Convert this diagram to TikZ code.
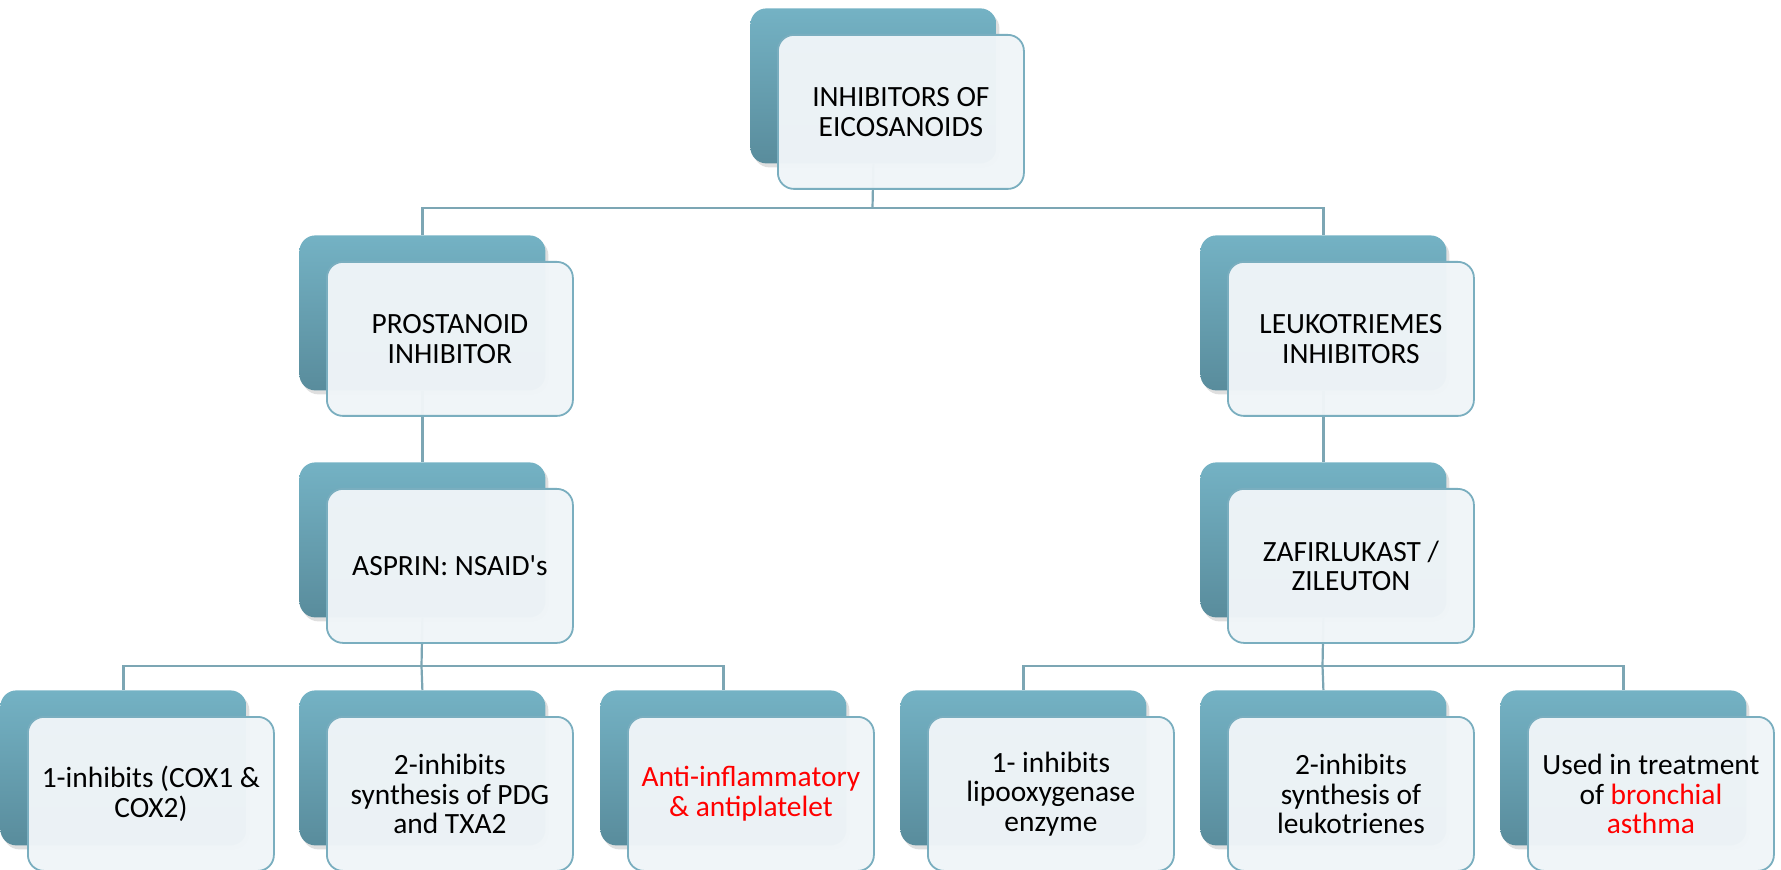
\documentclass[tikz,border=0pt]{standalone}
\usepackage{fontspec}
\setmainfont{Carlito}
\usetikzlibrary{positioning,shadows}
\definecolor{backtop}{HTML}{74B2C4}
\definecolor{backbot}{HTML}{598C9C}
\definecolor{frontfill}{HTML}{F0F5F8}
\definecolor{edge}{HTML}{7AAEBF}
\definecolor{linkcol}{HTML}{7CA6B4}

\begin{document}
\begin{tikzpicture}[x=0.5pt, y=-0.5pt,
	back/.style={anchor=north west, minimum width=123pt, minimum height=77.5pt, inner sep=0pt,
		rounded corners=8pt, top color=backtop, bottom color=backbot,
		drop shadow={shadow xshift=1.5pt, shadow yshift=-2pt, opacity=0.25}},
	front/.style={anchor=north west, minimum width=123pt, minimum height=77pt, inner sep=2pt,
		rounded corners=8pt, draw=edge, line width=0.9pt, fill=frontfill, fill opacity=0.97,
		text opacity=1, align=center, font=\fontsize{14.7}{14.8}\selectfont},
	link/.style={draw=linkcol, line width=1.1pt}]
	\useasboundingbox (0,0) rectangle (1781,870);

	% back boxes
	\node [back] (eico') at (750,8) {};
	\node [back] (pros') at (299,235) {};
	\node [back] (leuk') at (1200,235) {};
	\node [back] (asp') at (299,462) {};
	\node [back] (zaf') at (1200,462) {};
	\node [back] (cox') at (0,690) {};
	\node [back] (pdg') at (299,690) {};
	\node [back] (anti') at (600,690) {};
	\node [back] (lipo') at (900,690) {};
	\node [back] (leuko') at (1200,690) {};
	\node [back] (asth') at (1500,690) {};

	% connectors
	\coordinate (j1) at (872.5,208);
	\coordinate (j2) at (421.5,666);
	\coordinate (j3) at (1322.5,666);
	\draw [link] (eico'.south) -- (j1);
	\draw [link] (j1) -| (pros'.north);
	\draw [link] (j1) -| (leuk'.north);
	\draw [link] (pros'.south) -- (asp'.north);
	\draw [link] (leuk'.south) -- (zaf'.north);
	\draw [link] (asp'.south) -- (j2);
	\draw [link] (j2) -| (cox'.north);
	\draw [link] (j2) -- (pdg'.north);
	\draw [link] (j2) -| (anti'.north);
	\draw [link] (zaf'.south) -- (j3);
	\draw [link] (j3) -| (lipo'.north);
	\draw [link] (j3) -- (leuko'.north);
	\draw [link] (j3) -| (asth'.north);

	% front boxes
	\node [front, below right=13pt and 13.5pt of eico'.north west] (eico) {INHIBITORS OF\\EICOSANOIDS};
	\node [front, below right=13pt and 13.5pt of pros'.north west] (pros) {PROSTANOID\\INHIBITOR};
	\node [front, below right=13pt and 13.5pt of leuk'.north west] (leuk) {LEUKOTRIEMES\\INHIBITORS};
	\node [front, below right=13pt and 13.5pt of asp'.north west] (asp) {ASPRIN: NSAID{\textquotesingle}s};
	\node [front, below right=13pt and 13.5pt of zaf'.north west] (zaf) {ZAFIRLUKAST /\\ZILEUTON};
	\node [front, below right=13pt and 13.5pt of cox'.north west] (cox) {1-inhibits (COX1 \&\\COX2)};
	\node [front, below right=13pt and 13.5pt of pdg'.north west] (pdg) {2-inhibits\\synthesis of PDG\\and TXA2};
	\node [front, below right=13pt and 13.5pt of anti'.north west] (anti) {{\color{red}Anti-inflammatory}\\{\color{red}\& antiplatelet}};
	\node [front, below right=13pt and 13.5pt of lipo'.north west] (lipo) {1- inhibits\\lipooxygenase\\enzyme};
	\node [front, below right=13pt and 13.5pt of leuko'.north west] (leuko) {2-inhibits\\synthesis of\\leukotrienes};
	\node [front, below right=13pt and 13.5pt of asth'.north west] (asth) {Used in treatment\\of {\color{red}bronchial}\\{\color{red}asthma}};
\end{tikzpicture}
\end{document}
